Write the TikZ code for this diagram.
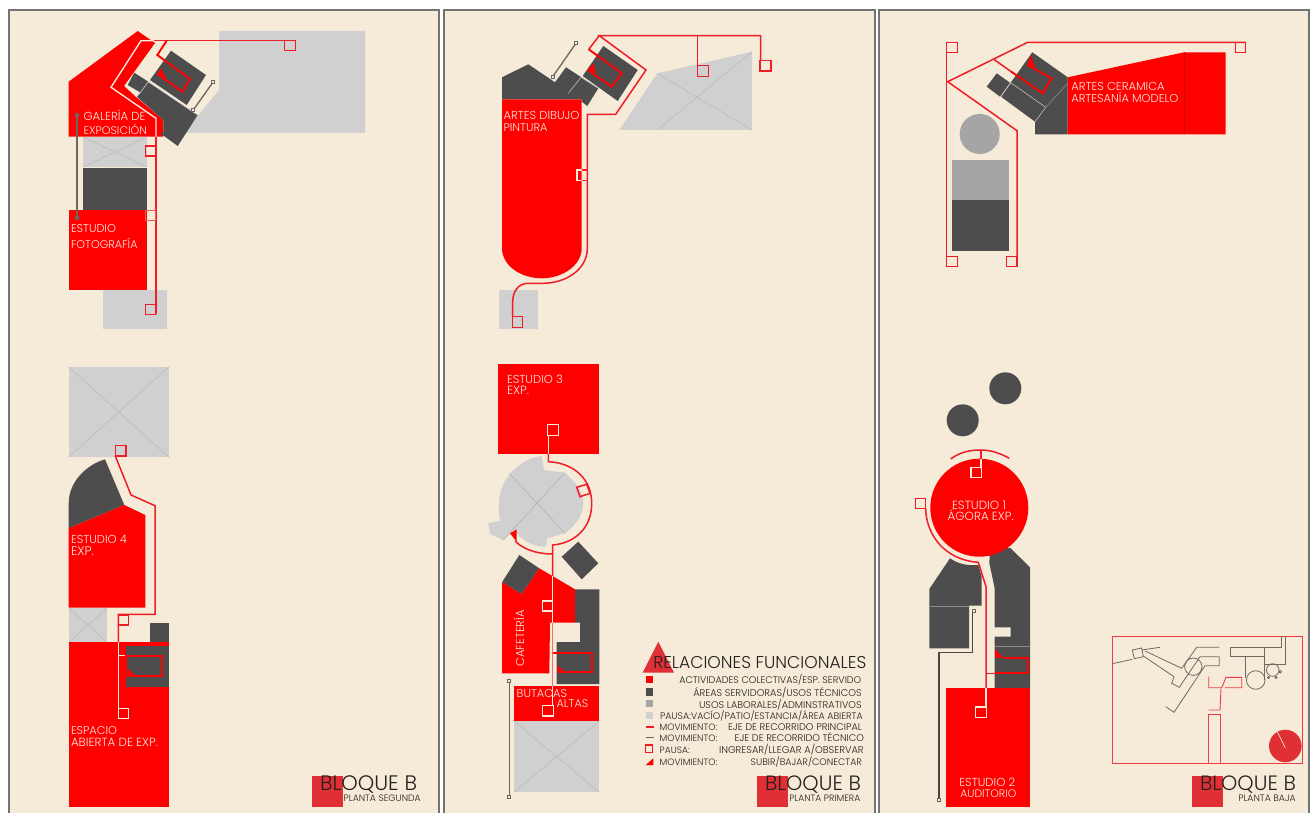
\documentclass[tikz,border=0pt]{standalone}
\usepackage{graphicx}
\usepackage{fontspec}
\setmainfont{Poppins Light}
\definecolor{cream}{HTML}{F6EBD8}
\definecolor{rd}{HTML}{FF0000}
\definecolor{brick}{HTML}{E03036}
\definecolor{dk}{HTML}{4D4D4D}
\definecolor{mid}{HTML}{A5A5A5}
\definecolor{lt}{HTML}{D0D0D0}
\definecolor{rline}{HTML}{F01C28}
\definecolor{cline}{HTML}{FDEBDF}
\definecolor{tech}{HTML}{6A6660}
\definecolor{ink}{HTML}{221F1D}
\tikzset{
  panel/.style={fill=cream,draw=none},
  edgeline/.style={draw=black!55,line width=1.3pt},
  rl/.style={draw=rline,line width=1.5pt,line join=miter},
  rd2/.style={draw=rd,line width=1.9pt,line join=miter},
  cl/.style={draw=cline,line width=1.35pt,line join=miter},
  tl/.style={draw=tech,line width=1.3pt},
  tdot/.style={draw=tech,line width=.9pt,fill=cream},
  tdotf/.style={draw=tech,line width=.9pt,fill=tech},
  xl/.style={draw=black!28,line width=.5pt},
  hair/.style={draw=black!35,line width=.6pt},
  keyl/.style={draw=black!55!cream,line width=.8pt},
  keyr/.style={draw=rline!85!cream,line width=.9pt},
  labelnode/.style={anchor=base west,inner sep=0pt,outer sep=0pt},
}
\newcommand{\lab}[6]{\node[labelnode,text=#2] (#1) at (#3,#4) {\resizebox{#5pt}{!}{#6}};}
\newcommand{\tdotat}[2]{\draw[tdot] (#1-1.5,#2-1.5) rectangle (#1+1.5,#2+1.5);}
\newcommand{\tdotfat}[2]{\draw[tdotf] (#1-1.5,#2-1.5) rectangle (#1+1.5,#2+1.5);}
\begin{document}
\begin{tikzpicture}[x=1pt,y=-1pt]
\useasboundingbox (0,0) rectangle (1311,813);
\fill[white] (0,0) rectangle (1311,813);
% panels
\foreach \a/\b in {9/439,444/875,879/1309}{
  \fill[panel] (\a,10) rectangle (\b,813);
  \draw[edgeline] (\a,813) -- (\a,10) -- (\b,10) -- (\b,813);
}
%%%%%%%%%%%%%%%% PANEL 1 upper
\fill[lt] (219,31) -- (365,31) -- (365,133) -- (184,133) -- (219,90) -- cycle;
\fill[rd] (137.7,31) -- (155,43) -- (124,86) -- (136,97) -- (163.3,120) -- (163.3,136.7) -- (68.7,136.7) -- (68.7,81.7) -- cycle;
\fill[dk] (148,82) -- (197.7,115) -- (177.7,146) -- (160,133) -- (163.3,133) -- (163.3,120) -- (137,97) -- cycle;
\fill[dk] (171,50.7) -- (206,75) -- (186.7,105) -- (150,80) -- cycle;
\fill[dk] (134.3,72.7) -- (148.3,81.7) -- (141.7,93.3) -- (127.7,85) -- cycle;
\draw[hair,draw=black!20] (148.3,81.7) -- (138.5,95) (148.3,81.7) -- (196.7,114.5);
\fill[lt] (83.3,137) rectangle (146.7,167);
\draw[xl] (83.3,137) -- (146.7,167) (146.7,137) -- (83.3,167);
\fill[dk] (83.3,168) rectangle (146.7,209.7);
\fill[rd] (68.7,209.7) rectangle (146.7,290);
\fill[lt] (102.7,290) rectangle (166.7,329.3);
% technical
\draw[tl] (213.3,81.7) -- (193.3,110); \tdotat{213.3}{81.7} \tdotat{193.3}{110}
\draw[tl,line width=1.7pt] (77.3,115) -- (77.3,218); \tdotfat{77.3}{115} \tdotfat{77.3}{218}
% circulation
\draw[rl] (154,40.7) -- (284.7,40.7);
\draw[cl] (154,40.7) -- (141,40.7) -- (111,87.3) -- (156,118.3) -- (156,136.7);
\draw[rl] (156,136.7) -- (156,314.3);
\draw[rd2] (166.7,40.7) -- (157.3,55) -- (190,79) -- (182.3,91.7) -- (157.3,74);
\fill[rd] (161,68.3) -- (157.3,74) -- (166.7,80) -- cycle;
\draw[rl] (284.7,40.3) rectangle (295.3,50.7);
\draw[rl] (145.7,146) rectangle (155.7,156);
\draw[rl,draw=rline!70!cream] (145.7,210.7) rectangle (155.7,220.7);
\draw[rl] (145.7,304.3) rectangle (155.7,314.3);
\lab{t1a}{cline}{83.5}{121}{62}{GALERÍA DE}
\lab{t1b}{cline}{83.5}{134.5}{63.5}{EXPOSICIÓN}
\lab{t1c}{cline}{71}{233}{45}{ESTUDIO}
\lab{t1d}{cline}{71}{248.5}{66.5}{FOTOGRAFÍA}
%%%%%%%%%%%%%%%% PANEL 1 lower
\fill[lt] (68.7,366.7) rectangle (169,457.3);
\draw[xl] (68.7,366.7) -- (169,457.3) (169,366.7) -- (68.7,457.3);
\fill[dk] (68.7,528.3) -- (68.7,503.3) .. controls (68.7,482) and (86,465) .. (105,459.3) -- (124.3,505) -- cycle;
\fill[rd] (68.7,528.3) -- (124.3,505) -- (145.3,515) -- (145.3,607.7) -- (68.7,607.7) -- cycle;
\fill[lt] (68.7,607.7) rectangle (107.3,642.3);
\draw[xl] (68.7,607.7) -- (107.3,642.3) (107.3,607.7) -- (68.7,642.3);
\fill[dk] (149.7,623.3) rectangle (169,642.3);
\fill[rd] (68.7,642.3) rectangle (169,806.7);
\fill[dk] (126,645.7) rectangle (169,687.3);
\draw[rl] (115.3,456) -- (131,495) -- (155,505.7) -- (155,614.3) -- (118.3,614.3) -- (118.3,642.3);
\draw[cl] (118.3,642.3) -- (118.3,708.3) (118.3,655.7) -- (126,655.7);
\draw[rl] (115.3,445.3) rectangle (126,456);
\draw[rl] (118.3,615) rectangle (128.3,625);
\draw[cl] (118.3,708.3) rectangle (128.7,718.7);
\draw[rd2] (126,655.7) rectangle (161.7,675.7);
\fill[rd] (127.7,668.3) -- (127.7,675.7) -- (135,675.7) -- cycle;
\lab{t1e}{cline}{71}{543}{56}{ESTUDIO 4}
\lab{t1f}{cline}{71}{555}{23}{EXP.}
\lab{t1g}{cline}{71}{734}{46}{ESPACIO}
\lab{t1h}{cline}{71}{746.5}{87}{ABIERTA DE EXP.}
\fill[brick] (312,775.7) rectangle (343.3,806.7);
\lab{t1i}{ink}{320}{790}{97}{BLOQUE B}
\lab{t1j}{ink}{343.7}{801}{77}{PLANTA SEGUNDA}
%%%%%%%%%%%%%%%% PANEL 2 upper
\fill[lt] (657.3,73.3) -- (752,51.7) -- (752,130) -- (619.3,130) -- cycle;
\draw[xl] (657.3,73.3) -- (752,130) (752,51.7) -- (657.3,130);
\fill[dk] (502,77.3) -- (528.3,64.3) -- (555,82.3) -- (566,67.3) -- (598.3,88.3) -- (587.3,106) -- (581.7,101.7) -- (581.7,99.3) -- (502,99.3) -- cycle;
\fill[dk] (603.3,46) -- (637.7,70) -- (617.7,101) -- (582.7,76) -- cycle;
\draw[hair,draw=black!25] (581,77.3) -- (568.3,93.3) (581,77.3) -- (598.3,88.3);
\fill[rd] (502,99.3) -- (581.7,99.3) -- (581.7,248.3) .. controls (581.7,265) and (563,278.3) .. (541.8,278.3) .. controls (520,278.3) and (502,265) .. (502,248.3) -- cycle;
\fill[lt] (499.3,290) rectangle (537.7,329.3);
\draw[tl] (576,43.3) -- (552.7,76.7); \tdotat{576}{43.3} \tdotat{552.7}{76.7}
\draw[rl] (760.7,60.3) -- (760.7,35.7) -- (599.3,35.7) -- (646,70) -- (615.7,114.3) -- (587.3,114.3) -- (587.3,248.3) .. controls (587.3,270) and (565,283.3) .. (543,283.3) -- (528.3,283.3) .. controls (518,283.3) and (512.7,292) .. (512.7,301.7) -- (512.7,316.7);
\draw[rl] (697.7,35.7) -- (697.7,65.7);
\draw[rl] (599.3,35.7) -- (588.7,49.3);
\draw[rd2] (588.7,49.3) -- (621.7,73.3) -- (611.7,86.7) -- (587.7,70);
\fill[rd] (593.3,63.3) -- (587.7,70) -- (596,73.3) -- cycle;
\draw[rl] (760,60.3) rectangle (771,71);
\draw[rl] (697.7,65.7) rectangle (708.3,76.3);
\draw[rl] (512.7,316.7) rectangle (522.7,327.3);
\draw[cl] (581.7,170) -- (577,170) -- (577,180.3) -- (581.7,180.3);
\draw[rl] (581.7,170) -- (587.3,170) -- (587.3,180.3) -- (581.7,180.3);
\lab{t2a}{cline}{503.5}{120}{76}{ARTES DIBUJO}
\lab{t2b}{cline}{503.5}{132}{44}{PINTURA}
%%%%%%%%%%%%%%%% PANEL 2 middle
\fill[rd] (498.3,364) rectangle (599,454);
\fill[lt] (541.7,456) -- (544,470) -- (565,472.7) .. controls (576,482) and (583.3,492) .. (583.3,503.3) .. controls (583.3,515) and (576,525) .. (565,533.3) -- (547.3,538.3) -- (546,546.7) .. controls (535,547) and (522,541) .. (513.3,530) -- (503.3,540) -- (490,534) -- (488.3,523.3) -- (500,520.7) .. controls (498,510) and (498,495) .. (503,485) .. controls (510,470) and (525,458) .. (541.7,456) -- cycle;
\draw[xl,draw=black!32] (509.3,473.3) -- (565,533.3) (565,472.7) -- (503.3,540);
\fill[dk] (519.3,555) -- (539.3,568.3) -- (521.7,594.3) -- (502,582.3) -- cycle;
\fill[dk] (578.3,541.7) -- (598.3,563.3) -- (581.7,579.3) -- (561.7,556.7) -- cycle;
\fill[rd] (502,582.3) -- (521.7,594.3) -- (539.3,568.3) -- (575,589.3) -- (575,622.7) -- (550,622.7) -- (549.3,673.3) -- (502,673.3) -- cycle;
\fill[dk] (575,589.3) -- (599.3,589.3) -- (599.3,684) -- (556.7,684) -- (556.7,642) -- (580,642) -- (580,622.7) -- (575,622.7) -- cycle;
\fill[rd] (514,685.7) rectangle (599.3,721);
\fill[lt] (514,721) rectangle (599.3,792.3);
\draw[xl] (514,721) -- (599.3,792.3) (599.3,721) -- (514,792.3);
\draw[tl] (509.3,681) -- (509.3,796.7); \tdotat{509.3}{681} \tdotat{509.3}{796.7}
\draw[cl] (548.3,435.3) -- (548.3,454);
\draw[rl] (548.3,454) -- (548.3,461.7) .. controls (575,463) and (591.7,480) .. (591.7,503.3) .. controls (591.7,528) and (575,543) .. (552.7,545) -- (552.7,576.4);
\draw[rl] (552.7,554) .. controls (540,554) and (525,551) .. (515,541);
\fill[rd] (510,533.3) -- (516.7,529.3) -- (516.7,541.7) -- cycle;
\draw[cl] (552.7,576.4) -- (552.7,622.7);
\draw[rl,draw=rline!60!cream] (552.7,622.7) -- (552.7,685.7);
\draw[cl] (552.7,685.7) -- (552.7,705.7);
\draw[cl] (547.7,424.7) rectangle (558.7,435.3);
\draw[rl] (576.7,487.3) -- (586.7,484.3) -- (590,493.3) -- (580,496.7) -- cycle;
\draw[cl] (542.7,601) rectangle (552.7,611);
\draw[cl] (542.7,705.7) rectangle (553.3,716);
\draw[rd2] (553.3,653.3) -- (591.7,653.3) -- (591.7,672.3) -- (557.7,672.3);
\fill[rd] (557.7,665) -- (557.7,672.3) -- (565,672.3) -- cycle;
\lab{t2c}{cline}{507}{383}{56}{ESTUDIO 3}
\lab{t2d}{cline}{507}{394}{22}{EXP.}
\node[labelnode,text=cline,rotate=90] (t2e) at (524,666.7) {\resizebox{56.5pt}{!}{CAFETERÍA}};
\lab{t2f}{cline}{516.7}{697.5}{50.5}{BUTACAS}
\lab{t2g}{cline}{556.7}{707}{31.5}{ALTAS}
% legend
\fill[brick] (658.3,641.7) -- (674,672.7) -- (642.7,672.7) -- cycle;
\lab{t3a}{ink}{653.3}{668.5}{213}{RELACIONES FUNCIONALES}
\fill[rd] (645.7,676) rectangle (653.3,682.7);
\fill[dk] (645.7,688.3) rectangle (653.3,695.7);
\fill[mid] (645.7,700) rectangle (653.3,707.3);
\fill[lt] (645.7,712.3) rectangle (653.3,719.3);
\draw[rl] (645.7,727) -- (654,727);
\draw[tl,line width=.9pt] (645.7,737.3) -- (654,737.3);
\draw[rl] (645.7,745) rectangle (652.7,752.3);
\fill[rd] (645.7,765) -- (653.3,758.3) -- (653.3,765) -- cycle;
\lab{l1}{ink}{679.3}{683}{182}{ACTIVIDADES COLECTIVAS/ESP. SERVIDO}
\lab{l2}{ink}{693.3}{696.7}{168.4}{ÁREAS SERVIDORAS/USOS TÉCNICOS}
\lab{l3}{ink}{699}{708.7}{162.7}{USOS LABORALES/ADMINSTRATIVOS}
\lab{l4}{ink}{660}{719.7}{202.7}{PAUSA:VACÍO/PATIO/ESTANCIA/ÁREA ABIERTA}
\lab{l5}{ink}{659.7}{730}{57.5}{MOVIMIENTO:}
\lab{l5b}{ink}{728}{730}{134}{EJE DE RECORRIDO PRINCIPAL}
\lab{l6}{ink}{659.7}{741}{57.5}{MOVIMIENTO:}
\lab{l6b}{ink}{734.7}{741}{129.3}{EJE DE RECORRIDO TÉCNICO}
\lab{l7}{ink}{659.7}{753}{30}{PAUSA:}
\lab{l7b}{ink}{719}{753}{144.7}{INGRESAR/LLEGAR A/OBSERVAR}
\lab{l8}{ink}{659.7}{765}{57.5}{MOVIMIENTO:}
\lab{l8b}{ink}{750.7}{765}{111.3}{SUBIR/BAJAR/CONECTAR}
\fill[brick] (757.3,775.7) rectangle (788.3,806.7);
\lab{t3b}{ink}{765}{790}{96}{BLOQUE B}
\lab{t3c}{ink}{789.3}{801}{71}{PLANTA PRIMERA}
%%%%%%%%%%%%%%%% PANEL 3 upper
\fill[dk] (1032.3,52.3) -- (1067.7,77.3) -- (1067.7,134.3) -- (1035,134.3) -- (1035,121.7) -- (1001,96.7) -- (1010.7,82.7) -- cycle;
\fill[dk] (996.7,73.3) -- (1010,82.7) -- (1000,96.7) -- (986.7,86.7) -- cycle;
\draw[hair,draw=black!25] (1010.7,82.7) -- (1045.7,107.3) -- (1035,121.7) (1010.7,82.7) -- (1001,96.7);
\draw[hair,draw=black!45] (1067.7,83.3) -- (1045.7,107.3);
\fill[rd] (1067.7,77.3) -- (1184,52.3) -- (1225.7,52.3) -- (1225.7,134.3) -- (1067.7,134.3) -- cycle;
\draw[hair,draw=rd!85!black,line width=.3pt] (1184,52.3) -- (1184,134.3);
\fill[mid] (979.7,134) circle (20);
\fill[mid] (951.7,160) rectangle (1009.3,200);
\fill[dk] (951.7,200) rectangle (1009.3,251);
\draw[rl] (946.7,42.3) -- (946.7,266.7);
\draw[rl] (1245.7,42.3) -- (1027.7,42.3) -- (947.7,81.7) -- (1017,130.7) -- (1017,266.7);
\draw[rl] (993.3,59) -- (1011,71.5);
\draw[rd2] (1011,71.5) -- (1042.7,93.3) -- (1051.7,78.3) -- (1027.3,65);
\fill[rd] (1030.7,55) -- (1027.3,65) -- (1035,68.3) -- cycle;
\draw[rl] (946.7,42.3) rectangle (957.7,52.3);
\draw[rl] (1235.3,42.3) rectangle (1245.7,52.3);
\draw[rl] (946.7,256.7) rectangle (957.7,266.7);
\draw[rl] (1006.7,256.7) rectangle (1017,266.7);
\lab{t4a}{cline}{1071.3}{90.5}{93.4}{ARTES CERAMICA}
\lab{t4b}{cline}{1071.3}{103}{107}{ARTESANÍA MODELO}
%%%%%%%%%%%%%%%% PANEL 3 lower
\fill[dk] (1005.3,388.3) circle (16);
\fill[dk] (962.7,420.3) circle (16);
\fill[dk] (950,558.3) .. controls (958,564) and (968,566) .. (978.3,565) -- (981.7,576.7) -- (981.7,605.7) -- (969,605.7) -- (969,648.3) -- (929.3,648.3) -- (929.3,589) -- cycle;
\draw[hair,draw=black!45,line width=.3pt] (929.3,605.7) -- (969,605.7);
\fill[dk] (1010,547.7) -- (1030,567.3) -- (1030,688.3) -- (994.7,688.3) -- (994.7,636.7) -- (1010.7,636.7) -- (1010.7,627.3) -- (994.7,627.3) -- (994.7,588.3) -- (989.3,563) -- (990,550) -- cycle;
\draw[hair,draw=black!45,line width=.3pt] (994.7,646.3) -- (1030,646.3);
\fill[rd] (979.3,507.7) circle (49);
\fill[rd] (946,688.3) rectangle (1030,807.3);
\draw[rl] (950.7,459) .. controls (960,452) and (970,450) .. (981,450) .. controls (990,450) and (1000,453) .. (1009.3,458.3);
\draw[rl] (981,450) -- (981,458.7);
\draw[cl] (981,458.7) -- (981,467.3);
\draw[cl] (971,467.3) rectangle (981.7,477.7);
\draw[rl] (915.7,498.3) rectangle (925.7,508.3);
\draw[rl] (925.7,508.3) .. controls (926,535) and (945,560) .. (978.3,562.3) -- (986,586.7) -- (986,688.3);
\draw[cl] (986,688.3) -- (986,707);
\draw[cl] (975.7,707) rectangle (986.3,717.7);
\draw[rd2] (994.7,673.3) -- (1027.7,673.3) -- (1027.7,657.7) -- (1003,657.7);
\draw[rl] (986,673.3) -- (994.7,673.3);
\fill[rd] (995,649.3) -- (995,657.7) -- (1003.3,657.7) -- cycle;
\draw[tl,draw=tech!70!black] (974.3,610.7) -- (972.7,610.7) -- (972.7,652.7) -- (939,652.7) -- (939,800); \tdotat{974.3}{610.7} \tdotat{939}{800}
\node[anchor=base,inner sep=0pt,text=cline] (t4c) at (979,509.5) {\resizebox{54pt}{!}{ESTUDIO 1}};
\node[anchor=base,inner sep=0pt,text=cline] (t4d) at (980.7,520.5) {\resizebox{66pt}{!}{ÁGORA EXP.}};
\node[anchor=base,inner sep=0pt,text=cline] (t4e) at (987.3,786) {\resizebox{56pt}{!}{ESTUDIO 2}};
\node[anchor=base,inner sep=0pt,text=cline] (t4f) at (988.3,797) {\resizebox{56pt}{!}{AUDITORIO}};
%%%%%%%%%%%%%%%% KEY PLAN
\draw[keyr] (1112.3,636) rectangle (1302.3,763);
\draw[keyl] (1112.3,663.7) -- (1132.3,659.3);
\draw[keyl] (1132.3,650) -- (1141.7,648) -- (1143.3,656.7) -- (1134.3,658.7) -- cycle;
\draw[keyl] (1141.7,650) -- (1160,647.3);
\draw[keyl] (1143.3,656) -- (1174,676.7) -- (1171.7,683.3) -- (1179.3,687.3) -- (1200,656.7) -- (1219.3,656.7) -- (1219.3,665.7) -- (1205,665.7) -- (1174,712.3) -- (1165.7,706.7);
\draw[keyl] (1145,651) -- (1181.7,668.3) -- (1196.7,647.3) -- (1219.3,647.3);
\draw[keyl] (1193.3,666.7) circle (8.7);
\draw[keyl] (1281.7,636) -- (1281.7,647.3) -- (1230,647.3) -- (1230,656.7) -- (1264,656.7) -- (1264,647.3);
\draw[keyl] (1285.7,636) -- (1285.7,664.3) -- (1264,664.3);
\draw[keyl] (1245.7,656.7) -- (1245.7,678.3) (1264,656.7) -- (1264,680);
\draw[keyl] (1255.7,680) circle (9.3);
\draw[keyl] (1272.7,670) circle (6.3);
\draw[keyl] (1268.5,677.5) circle (1) (1276,677.5) circle (1) (1280.3,671.7) circle (1.3);
\draw[keyr] (1208.7,676.7) -- (1208.7,687.7) -- (1221.7,687.7) -- (1226,677.3) -- (1241.7,677.3) -- (1241.7,687.7) -- (1225,687.7);
\draw[keyr] (1221,688.3) -- (1220,710) -- (1208.7,710);
\draw[keyr] (1208.7,763) -- (1208.7,714) -- (1220.7,714) -- (1220.7,763);
\fill[brick] (1285.3,746) circle (16.3);
\draw[draw=cream,line width=.7pt] (1277.3,731.7) -- (1285.3,747.7);
\fill[brick] (1192.3,775.7) rectangle (1223.3,807);
\lab{t5a}{ink}{1200}{790}{96}{BLOQUE B}
\lab{t5b}{ink}{1238.3}{801}{57.4}{PLANTA BAJA}
\end{tikzpicture}
\end{document}
